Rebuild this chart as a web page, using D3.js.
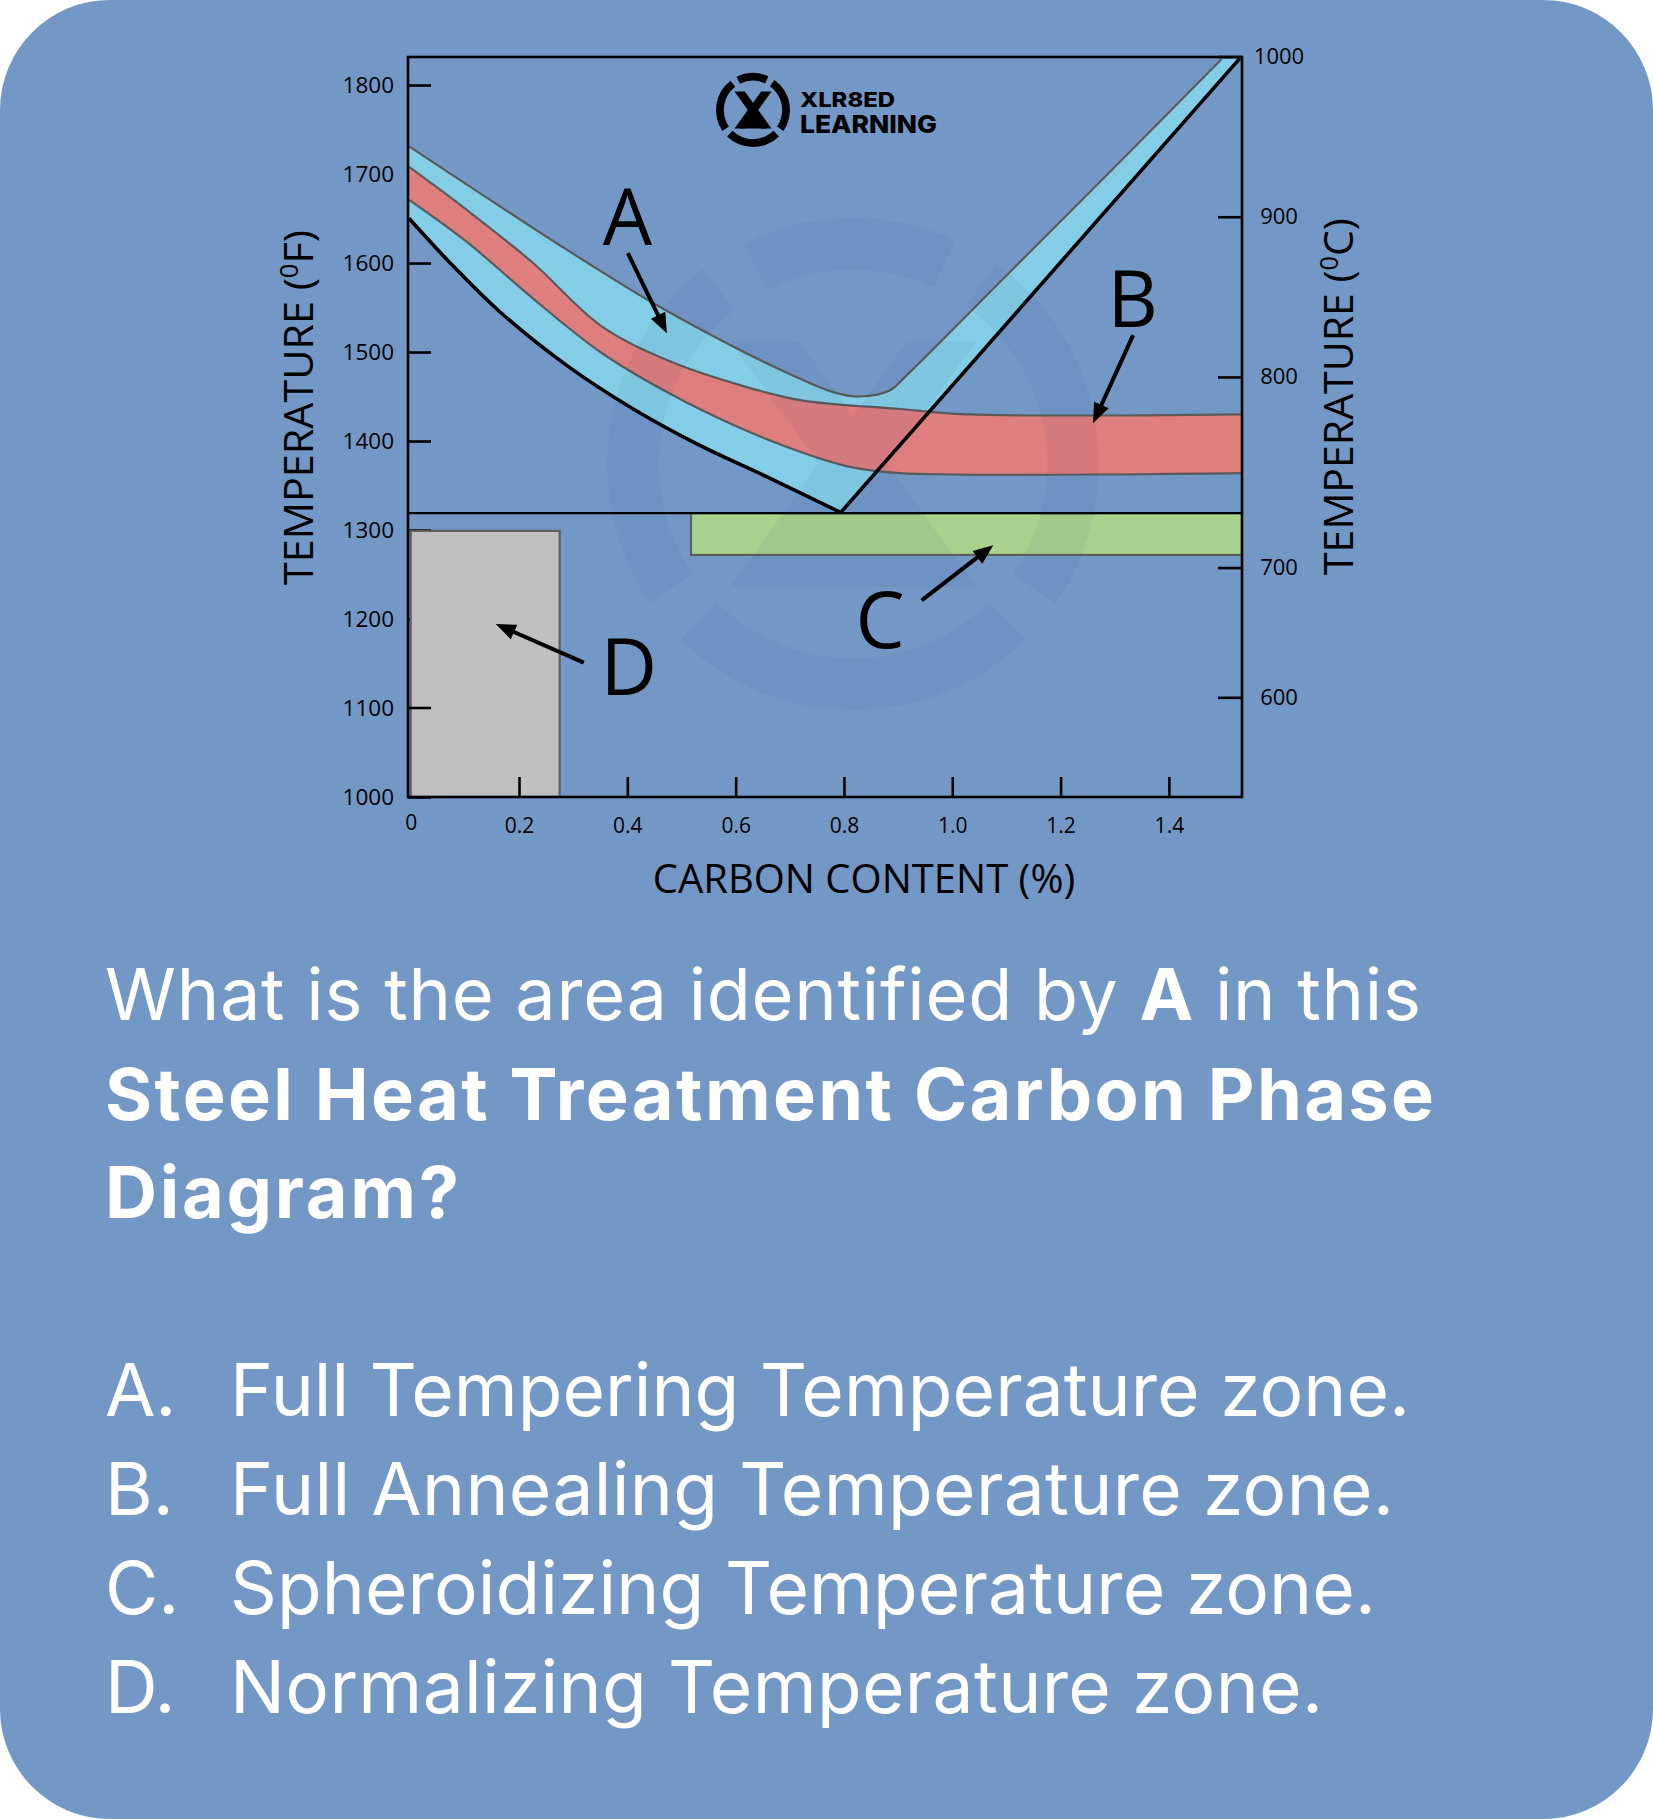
<!DOCTYPE html>
<html><head><meta charset="utf-8">
<script src="https://cdn.jsdelivr.net/npm/d3@7"></script>
<style>html,body{margin:0;padding:0;background:#fff;} svg{display:block}</style>
</head><body><svg id="c" width="1653" height="1819"></svg>
<script>
// ---------------- DATA (carbon %, temperature °F) ----------------
const xTickValues = [0, 0.2, 0.4, 0.6, 0.8, 1.0, 1.2, 1.4];
const xTickLabels = ["0", "0.2", "0.4", "0.6", "0.8", "1.0", "1.2", "1.4"];
const yTickValuesF = [1000, 1100, 1200, 1300, 1400, 1500, 1600, 1700, 1800];
const rightTickLabels = ["600", "700", "800", "900", "1000"];
const rightTickValuesC = [600, 681, 800, 900, 1000];

// upper limit of the blue zone (grey line)
const upperLimit = [[-0.003,1731],[0.134,1676],[0.288,1615],[0.442,1557],[0.596,1506],[0.719,1470],[0.78,1455],[0.83,1450],[0.885,1457],[0.916,1474],[1.1,1586],[1.3,1708],[1.497,1829]];
// A3 line (black, left)
const a3Line = [[-0.003,1650],[0.073,1600],[0.165,1545],[0.288,1485],[0.411,1436],[0.534,1395],[0.657,1360],[0.793,1320]];
// Acm line (black, right)
const acmLine = [[0.793,1319],[1.531,1830]];
// A1 line temperature
const a1Temp = 1319;
// red band (zone B)
const redUpper = [[-0.003,1708],[0.103,1660],[0.226,1600],[0.35,1530],[0.473,1491],[0.596,1465],[0.719,1446],[0.903,1436],[1.027,1430],[1.535,1430]];
const redLower = [[-0.003,1671],[0.103,1624],[0.226,1560],[0.35,1500],[0.473,1455],[0.596,1418],[0.719,1388],[0.811,1371],[0.903,1364],[1.535,1364]];
// grey zone D and green zone C  [x0, x1, T0, T1]
const zoneD = [0, 0.275, 1000, 1299];
const zoneC = [0.5175, 1.535, 1272, 1319];
// annotations: label, label x, label baseline T, arrow from (x,T) to (x,T)
const annotations = [
  {label:"A", x:0.400, t:1620, ax0:0.401, at0:1611, ax1:0.473, at1:1521},
  {label:"B", x:1.333, t:1528, ax0:1.334, at0:1519, ax1:1.260, at1:1420},
  {label:"C", x:0.8665, t:1167, ax0:0.9435, at0:1221, ax1:1.0757, at1:1283},
  {label:"D", x:0.4027, t:1114.6, ax0:0.3196, at0:1151, ax1:0.157, at1:1194.4}
];
const questionLine1 = ["What is the area identified by ", "A", " in this"];
const questionLine2 = "Steel Heat Treatment Carbon Phase";
const questionLine3 = "Diagram?";
const optionLetters = ["A.", "B.", "C.", "D."];
const optionTexts = ["Full Tempering Temperature zone.", "Full Annealing Temperature zone.", "Spheroidizing Temperature zone.", "Normalizing Temperature zone."];

// ---------------- DRAW ----------------
const W = 1653, H = 1819;
const svg = d3.select("#c");
svg.append("rect").attr("width", W).attr("height", H).attr("rx", 110).attr("ry", 110).attr("fill", "#7398c6");

const x = d3.scaleLinear().domain([-0.005, 1.535]).range([408, 1242]);
const y = d3.scaleLinear().domain([1000, 1831.5]).range([797, 57]);
const toC = f => (f - 32) * 5 / 9;
const yC = d3.scaleLinear().domain([toC(1000), toC(1831.5)]).range([797, 57]);

const defs = svg.append("defs");
defs.append("clipPath").attr("id", "plotclip").append("rect")
  .attr("x", x.range()[0]).attr("y", y.range()[1])
  .attr("width", x.range()[1] - x.range()[0]).attr("height", y.range()[0] - y.range()[1]);

const tickFont = "'Open Sans', sans-serif";
// left axis (drawn first so the grey zone covers the hidden ticks)
const yAxis = svg.append("g").attr("transform", `translate(${x.range()[0]},0)`)
  .call(d3.axisLeft(y).tickValues(yTickValuesF).tickFormat(d3.format("d")).tickSizeInner(-23).tickSizeOuter(0).tickPadding(14));

const plot = svg.append("g").attr("clip-path", "url(#plotclip)");
const line = d3.line().x(d => x(d[0])).y(d => y(d[1])).curve(d3.curveCatmullRom.alpha(0.5));
const straight = d3.line().x(d => x(d[0])).y(d => y(d[1]));

// blue zone
const bluePath = line(upperLimit) + "L" + x(acmLine[1][0]) + "," + y(acmLine[1][1]) +
  "L" + x(acmLine[0][0]) + "," + y(acmLine[0][1]) +
  line(a3Line.slice().reverse()).replace(/^M/, "L") + "Z";
plot.append("path").attr("d", bluePath).attr("fill", "#84cde6");
plot.append("path").attr("d", line(upperLimit)).attr("fill", "none").attr("stroke", "#5b5b5b").attr("stroke-width", 2.2);

// red zone
const redPath = line(redUpper) + line(redLower.slice().reverse()).replace(/^M/, "L") + "Z";
plot.append("path").attr("d", redPath).attr("fill", "#df7e7f");
plot.append("path").attr("d", line(redUpper)).attr("fill", "none").attr("stroke", "#5b5b5b").attr("stroke-width", 2.2);
plot.append("path").attr("d", line(redLower)).attr("fill", "none").attr("stroke", "#5b5b5b").attr("stroke-width", 2.2);

// grey zone D
plot.append("rect").attr("x", x(zoneD[0])).attr("y", y(zoneD[3]))
  .attr("width", x(zoneD[1]) - x(zoneD[0])).attr("height", y(zoneD[2]) - y(zoneD[3]))
  .attr("fill", "#bfbfbf").attr("stroke", "#5f5f5f").attr("stroke-width", 2.2);
// green zone C
plot.append("rect").attr("x", x(zoneC[0])).attr("y", y(zoneC[3]))
  .attr("width", x(zoneC[1]) - x(zoneC[0])).attr("height", y(zoneC[2]) - y(zoneC[3]))
  .attr("fill", "#a9d18e").attr("stroke", "#5f5f5f").attr("stroke-width", 2.2);

// black lines
plot.append("path").attr("d", line(a3Line)).attr("fill", "none").attr("stroke", "#000").attr("stroke-width", 3.6);
plot.append("path").attr("d", straight(acmLine)).attr("fill", "none").attr("stroke", "#000").attr("stroke-width", 3.6);
plot.append("line").attr("x1", x.range()[0]).attr("x2", x.range()[1]).attr("y1", y(a1Temp)).attr("y2", y(a1Temp))
  .attr("stroke", "#000").attr("stroke-width", 2.4);

// 1100 tick is visible on top of the grey zone in the reference
plot.append("line").attr("x1", x.range()[0]).attr("x2", x.range()[0] + 23).attr("y1", y(1100)).attr("y2", y(1100))
  .attr("stroke", "#000").attr("stroke-width", 2.6);

// logo drawing helper
function drawLogo(g, cx, cy, r, fill, opacity) {
  const grp = g.append("g").attr("transform", `translate(${cx},${cy}) scale(${r})`).attr("fill", fill).attr("opacity", opacity);
  const gaps = [-32, 30, 130, 230].map(a => a * Math.PI / 180);
  const half = 5.5 * Math.PI / 180;
  const arc = d3.arc().innerRadius(0.79).outerRadius(1);
  for (let i = 0; i < 4; i++) {
    const s = gaps[i] + half;
    const e = (i < 3 ? gaps[i + 1] : gaps[0] + 2 * Math.PI) - half;
    grp.append("path").attr("d", arc({startAngle: s, endAngle: e}));
  }
  const polys = [
    [[-0.5,-0.5],[-0.22,-0.5],[0.5,0.5],[0.22,0.5]],
    [[0.22,-0.5],[0.5,-0.5],[-0.22,0.5],[-0.5,0.5]],
    [[-0.36,0.5],[0.36,0.5],[0,0.05]]
  ];
  polys.forEach(p => grp.append("path").attr("d", "M" + p.map(q => q.join(",")).join("L") + "Z"));
  return grp;
}
// watermark
drawLogo(plot, 853, 464, 246, "#1d3c6e", 0.05);

// frame
svg.append("rect").attr("x", x.range()[0]).attr("y", y.range()[1])
  .attr("width", x.range()[1] - x.range()[0]).attr("height", y.range()[0] - y.range()[1])
  .attr("fill", "none").attr("stroke", "#000").attr("stroke-width", 2.6);

// other axes
const xAxis = svg.append("g").attr("transform", `translate(0,${y.range()[0]})`)
  .call(d3.axisBottom(x).tickValues(xTickValues).tickFormat((d, i) => xTickLabels[i]).tickSizeInner(-20).tickSizeOuter(0).tickPadding(21));
const rAxis = svg.append("g").attr("transform", `translate(${x.range()[1]},0)`)
  .call(d3.axisRight(yC).tickValues(rightTickValuesC).tickFormat((d, i) => rightTickLabels[i]).tickSizeInner(-24).tickSizeOuter(0));
[yAxis, xAxis, rAxis].forEach(a => {
  a.select(".domain").remove();
  a.selectAll(".tick line").attr("stroke", "#000").attr("stroke-width", 2.6);
  a.selectAll(".tick text").attr("fill", "#000").style("font-family", tickFont);
});
yAxis.selectAll(".tick text").style("font-size", "22.5px");
xAxis.selectAll(".tick text").style("font-size", "21px");
xAxis.selectAll(".tick").filter(d => d === 0).select("line").remove();
xAxis.selectAll(".tick").filter(d => d === 0).select("text").attr("y", 18);
rAxis.selectAll(".tick text").style("font-size", "22px").attr("text-anchor", "middle").attr("x", 37);

// axis titles
function tempTitle(cx, cy, unit, len) {
  const t = svg.append("text").attr("transform", `translate(${cx},${cy}) rotate(-90)`)
    .attr("text-anchor", "middle").style("font-family", tickFont).style("font-size", "40.5px").attr("fill", "#000")
    .attr("textLength", len).attr("lengthAdjust", "spacingAndGlyphs");
  t.append("tspan").text("TEMPERATURE (");
  t.append("tspan").attr("dy", -15).style("font-size", "25px").text("0");
  t.append("tspan").attr("dy", 15).text(unit + ")");
}
tempTitle(313, 407.5, "F", 355);
tempTitle(1353, 396.5, "C", 357);
svg.append("text").attr("x", 864).attr("y", 893).attr("text-anchor", "middle")
  .style("font-family", tickFont).style("font-size", "40px").attr("fill", "#000").text("CARBON CONTENT (%)");

// annotations
annotations.forEach(a => {
  svg.append("text").attr("x", x(a.x)).attr("y", y(a.t)).attr("text-anchor", "middle")
    .style("font-family", tickFont).style("font-size", "78px").attr("fill", "#000").text(a.label);
  const x0 = x(a.ax0), y0 = y(a.at0), x1 = x(a.ax1), y1 = y(a.at1);
  const dx = x1 - x0, dy = y1 - y0, len = Math.hypot(dx, dy), ux = dx / len, uy = dy / len;
  const hl = 20, hw = 8;
  const bx = x1 - ux * hl, by = y1 - uy * hl;
  svg.append("line").attr("x1", x0).attr("y1", y0).attr("x2", bx + ux * 2).attr("y2", by + uy * 2)
    .attr("stroke", "#000").attr("stroke-width", 4);
  svg.append("path").attr("d", `M${x1},${y1}L${bx - uy * hw},${by + ux * hw}L${bx + uy * hw},${by - ux * hw}Z`).attr("fill", "#000");
});

// logo
drawLogo(svg, 753, 110, 37, "#000", 1);
svg.append("text").attr("x", 800).attr("y", 106.7).style("font-family", "Inter, sans-serif").style("font-weight", 800)
  .style("font-size", "20.5px").attr("textLength", 95).attr("lengthAdjust", "spacingAndGlyphs").attr("fill", "#000").text("XLR8ED");
svg.append("text").attr("x", 800).attr("y", 133.3).style("font-family", "Inter, sans-serif").style("font-weight", 800)
  .style("font-size", "25px").attr("textLength", 137).attr("lengthAdjust", "spacingAndGlyphs").attr("fill", "#000").text("LEARNING");

// question text
const qFont = "Inter, sans-serif";
const q1 = svg.append("text").attr("x", 105).attr("y", 1020).style("font-family", qFont).style("font-size", "72px")
  .attr("fill", "#fff").attr("textLength", 1316).attr("lengthAdjust", "spacing");
q1.append("tspan").text(questionLine1[0]);
q1.append("tspan").style("font-weight", 700).text(questionLine1[1]);
q1.append("tspan").text(questionLine1[2]);
svg.append("text").attr("x", 105).attr("y", 1120).style("font-family", qFont).style("font-size", "72px").style("font-weight", 700)
  .attr("fill", "#fff").attr("textLength", 1329).attr("lengthAdjust", "spacing").text(questionLine2);
svg.append("text").attr("x", 105).attr("y", 1218).style("font-family", qFont).style("font-size", "72px").style("font-weight", 700)
  .attr("fill", "#fff").attr("textLength", 354).attr("lengthAdjust", "spacing").text(questionLine3);

const optBaselines = [1416, 1515, 1614, 1713];
const optWidths = [1180, 1164, 1146, 1093];
optionTexts.forEach((t, i) => {
  svg.append("text").attr("x", 105).attr("y", optBaselines[i]).style("font-family", qFont).style("font-size", "73px")
    .attr("fill", "#fff").text(optionLetters[i]);
  svg.append("text").attr("x", 230).attr("y", optBaselines[i]).style("font-family", qFont).style("font-size", "73px")
    .attr("fill", "#fff").attr("textLength", optWidths[i]).attr("lengthAdjust", "spacing").text(t);
});
</script>
</body></html>
